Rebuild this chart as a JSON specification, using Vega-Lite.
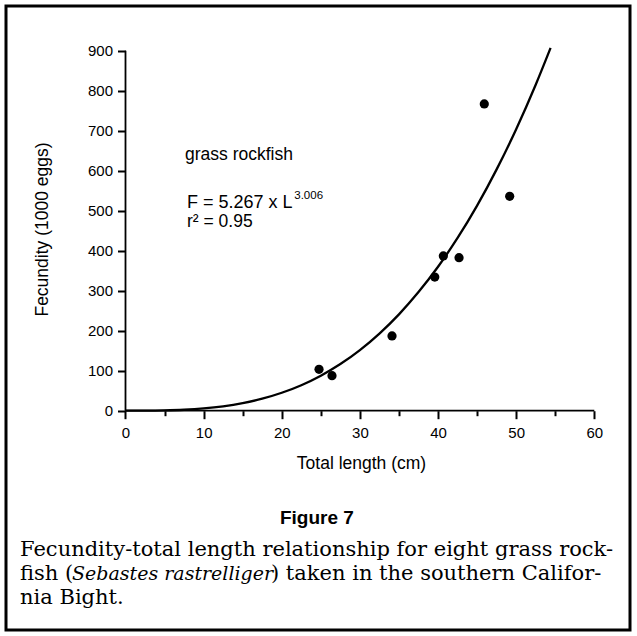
{
  "$schema": "https://vega.github.io/schema/vega-lite/v6.json",
  "width": 624,
  "height": 624,
  "autosize": "none",
  "padding": {"left": 6, "top": 6, "right": 7, "bottom": 6},
  "background": "white",
  "config": {
    "view": {"stroke": "black", "strokeWidth": 3},
    "font": "Liberation Sans",
    "axis": {"domain": false, "grid": false, "tickColor": "black", "tickWidth": 2, "labelColor": "black", "labelFont": "Liberation Sans", "labelFontSize": 15, "titleFont": "Liberation Sans", "titleFontSize": 17.5, "titleFontWeight": "normal", "titleColor": "black", "labelPadding": 7}
  },
  "datasets": {
    "fish": [
      {"L": 24.77, "F": 103.5},
      {"L": 26.43, "F": 87.5},
      {"L": 34.11, "F": 186.8},
      {"L": 39.58, "F": 334},
      {"L": 40.68, "F": 386.8},
      {"L": 42.69, "F": 382.5},
      {"L": 45.92, "F": 766.8},
      {"L": 49.17, "F": 536}
    ],
    "curve": [
      {"L": 0, "F": 0},
      {"L": 2.5, "F": 0.09},
      {"L": 5, "F": 0.69},
      {"L": 7.5, "F": 2.35},
      {"L": 10, "F": 5.58},
      {"L": 12.5, "F": 10.9},
      {"L": 15, "F": 18.9},
      {"L": 17.5, "F": 30.0},
      {"L": 20, "F": 44.8},
      {"L": 22.5, "F": 63.8},
      {"L": 25, "F": 87.6},
      {"L": 27.5, "F": 116.6},
      {"L": 30, "F": 151.5},
      {"L": 32.5, "F": 192.8},
      {"L": 35, "F": 240.9},
      {"L": 37.5, "F": 296.5},
      {"L": 40, "F": 359.8},
      {"L": 42.5, "F": 431.8},
      {"L": 45, "F": 512.7},
      {"L": 47.5, "F": 603.3},
      {"L": 50, "F": 703.8},
      {"L": 52.5, "F": 815.0},
      {"L": 54.4, "F": 906.9}
    ],
    "one": [{}]
  },
  "layer": [
    {
      "data": {"name": "curve"},
      "mark": {"type": "line", "color": "black", "strokeWidth": 2.3, "interpolate": "monotone", "clip": false},
      "encoding": {
        "x": {
          "field": "L", "type": "quantitative", "title": "Total length (cm)",
          "scale": {"domain": [-15.294, 64.569], "nice": false, "zero": false},
          "axis": {
            "orient": "bottom", "offset": -219.3,
            "values": [0, 5, 10, 15, 20, 25, 30, 35, 40, 45, 50, 55, 60],
            "labelExpr": "datum.value % 10 === 0 ? datum.label : ''",
            "tickSize": {"condition": {"test": "datum.value % 10 === 0", "value": 8}, "value": 5},
            "titleX": 355, "titleY": 53, "titleBaseline": "middle", "titleAlign": "center",
            "labelFlush": false, "labelOverlap": false
          }
        },
        "y": {
          "field": "F", "type": "quantitative", "title": "Fecundity (1000 eggs)",
          "scale": {"domain": [-548.25, 1011.75], "nice": false, "zero": false},
          "axis": {
            "orient": "left", "offset": -119.5,
            "values": [0, 50, 100, 150, 200, 250, 300, 350, 400, 450, 500, 550, 600, 650, 700, 750, 800, 850, 900],
            "labelExpr": "datum.value % 100 === 0 ? datum.label : ''",
            "tickSize": {"condition": {"test": "datum.value % 100 === 0", "value": 8}, "value": 5},
            "labelPadding": 5,
            "titleX": -83.5, "titleY": 223, "titleAngle": -90, "titleBaseline": "middle", "titleAlign": "center",
            "labelFlush": false, "labelOverlap": false
          }
        }
      }
    },
    {
      "data": {"name": "fish"},
      "mark": {"type": "circle", "color": "black", "opacity": 1, "size": 85},
      "encoding": {
        "x": {"field": "L", "type": "quantitative", "title": "Total length (cm)"},
        "y": {"field": "F", "type": "quantitative", "title": "Fecundity (1000 eggs)"}
      }
    },
    {
      "data": {"name": "one"},
      "mark": {"type": "rule", "color": "black", "strokeWidth": 1.8},
      "encoding": {
        "x": {"datum": 0, "type": "quantitative"},
        "x2": {"datum": 60},
        "y": {"datum": 0, "type": "quantitative"}
      }
    },
    {
      "data": {"name": "one"},
      "mark": {"type": "rule", "color": "black", "strokeWidth": 1.8},
      "encoding": {
        "x": {"datum": 0, "type": "quantitative"},
        "y": {"datum": 0, "type": "quantitative"},
        "y2": {"datum": 900}
      }
    },
    {
      "data": {"name": "one"},
      "mark": {"type": "text", "text": "grass rockfish", "align": "left", "baseline": "middle", "fontSize": 17.5, "font": "Liberation Sans", "color": "black"},
      "encoding": {"x": {"datum": 7.62, "type": "quantitative"}, "y": {"datum": 639, "type": "quantitative"}}
    },
    {
      "data": {"name": "one"},
      "mark": {"type": "text", "text": "F = 5.267 x L", "align": "left", "baseline": "middle", "fontSize": 18, "font": "Liberation Sans", "color": "black"},
      "encoding": {"x": {"datum": 7.87, "type": "quantitative"}, "y": {"datum": 519, "type": "quantitative"}}
    },
    {
      "data": {"name": "one"},
      "mark": {"type": "text", "text": "3.006", "align": "left", "baseline": "middle", "fontSize": 11.5, "font": "Liberation Sans", "color": "black"},
      "encoding": {"x": {"datum": 21.6, "type": "quantitative"}, "y": {"datum": 536, "type": "quantitative"}}
    },
    {
      "data": {"name": "one"},
      "mark": {"type": "text", "text": "r² = 0.95", "align": "left", "baseline": "middle", "fontSize": 17.5, "font": "Liberation Sans", "color": "black"},
      "encoding": {"x": {"datum": 7.87, "type": "quantitative"}, "y": {"datum": 472, "type": "quantitative"}}
    },
    {
      "data": {"name": "one"},
      "mark": {"type": "text", "text": "Figure 7", "align": "center", "baseline": "middle", "fontSize": 19, "font": "Liberation Sans", "fontWeight": "bold", "color": "black"},
      "encoding": {"x": {"datum": 24.5, "type": "quantitative"}, "y": {"datum": -268, "type": "quantitative"}}
    },
    {
      "data": {"name": "one"},
      "mark": {"type": "text", "text": "Fecundity-total length relationship for eight grass rock-", "align": "left", "baseline": "middle", "fontSize": 21, "font": "DejaVu Serif", "color": "black"},
      "encoding": {"x": {"datum": -13.5, "type": "quantitative"}, "y": {"datum": -348, "type": "quantitative"}}
    },
    {
      "data": {"name": "one"},
      "mark": {"type": "text", "text": "fish (", "align": "left", "baseline": "middle", "fontSize": 21, "font": "DejaVu Serif", "color": "black"},
      "encoding": {"x": {"datum": -13.5, "type": "quantitative"}, "y": {"datum": -408, "type": "quantitative"}}
    },
    {
      "data": {"name": "one"},
      "mark": {"type": "text", "text": "Sebastes rastrelliger", "align": "left", "baseline": "middle", "fontSize": 19, "font": "DejaVu Serif", "fontStyle": "italic", "color": "black"},
      "encoding": {"x": {"datum": -6.84, "type": "quantitative"}, "y": {"datum": -408, "type": "quantitative"}}
    },
    {
      "data": {"name": "one"},
      "mark": {"type": "text", "text": ") taken in the southern Califor-", "align": "left", "baseline": "middle", "fontSize": 21, "font": "DejaVu Serif", "color": "black"},
      "encoding": {"x": {"datum": 18.62, "type": "quantitative"}, "y": {"datum": -408, "type": "quantitative"}}
    },
    {
      "data": {"name": "one"},
      "mark": {"type": "text", "text": "nia Bight.", "align": "left", "baseline": "middle", "fontSize": 21, "font": "DejaVu Serif", "color": "black"},
      "encoding": {"x": {"datum": -13.5, "type": "quantitative"}, "y": {"datum": -468, "type": "quantitative"}}
    }
  ]
}
